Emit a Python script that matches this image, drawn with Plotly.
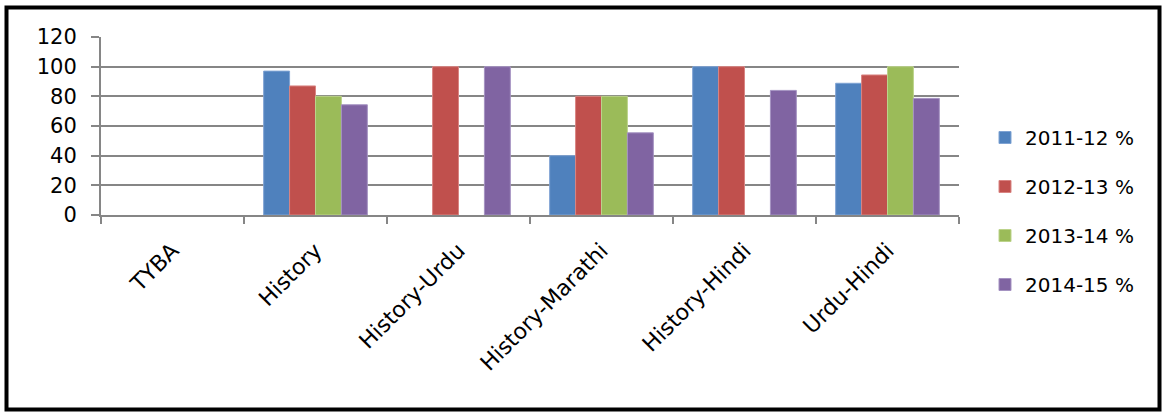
import plotly.graph_objects as go

categories = ["TYBA", "History", "History-Urdu", "History-Marathi", "History-Hindi", "Urdu-Hindi"]
series_names = ["2011-12 %", "2012-13 %", "2013-14 %", "2014-15 %"]
v_2011_12 = [None, 97, None, 40, 100, 88.8]
v_2012_13 = [None, 87, 100, 80, 100, 94.4]
v_2013_14 = [None, 80, None, 80, None, 100]
v_2014_15 = [None, 74.3, 100, 55.4, 84, 78.6]
y_ticks = [0, 20, 40, 60, 80, 100, 120]

colors = ["#4F81BD", "#C0504D", "#9BBB59", "#8064A2"]
edges = ["#7FA3D3", "#D98583", "#BCD38B", "#A593C2"]

W, H = 1165, 412
ML, MR, MT, MB = 101, 206, 37, 197
PW, PH = W - ML - MR, H - MT - MB

fig = go.Figure()
for i, (name, vals) in enumerate(zip(series_names, [v_2011_12, v_2012_13, v_2013_14, v_2014_15])):
    fig.add_trace(go.Bar(
        x=categories, y=vals, name=name, legendgroup=name,
        marker=dict(color=colors[i], line=dict(color=edges[i], width=1)),
    ))

def px_x(p):
    return (p - ML) / PW

def px_y(p):
    return 1 - (p - MT) / PH

fig.add_shape(type="rect", xref="paper", yref="paper",
              x0=px_x(6.5), x1=px_x(1159.5), y0=px_y(409.5), y1=px_y(7.5),
              line=dict(color="black", width=4), fillcolor="rgba(0,0,0,0)", layer="above")

fig.update_layout(
    width=W, height=H,
    margin=dict(l=ML, r=MR, t=MT, b=MB, autoexpand=False),
    paper_bgcolor="white", plot_bgcolor="white",
    barmode="group", bargap=0.275, bargroupgap=0,
    font=dict(family="DejaVu Sans", color="black", size=20),
    showlegend=True,
    legend=dict(x=px_x(985), y=px_y(118), xanchor="left", yanchor="top",
                font=dict(size=20), tracegroupgap=20, traceorder="grouped",
                bgcolor="rgba(0,0,0,0)", itemwidth=30, maxheight=380),
    xaxis=dict(
        type="category", tickangle=-45, tickson="boundaries", ticks="outside",
        ticklen=7, tickcolor="#868686", tickwidth=2,
        showline=True, linecolor="#868686", linewidth=2,
        tickfont=dict(size=22), showgrid=False, ticklabelstandoff=12,
    ),
    yaxis=dict(
        range=[0, 120], tickvals=y_ticks, ticks="outside", ticklen=8,
        tickcolor="#868686", tickwidth=2,
        showgrid=True, gridcolor="#868686", gridwidth=2,
        showline=True, linecolor="#868686", linewidth=2,
        zeroline=False, tickfont=dict(size=21), ticklabelstandoff=10,
    ),
)

fig.write_html("out.html", config={"displayModeBar": False},
               post_script="document.body.style.margin='0';")
